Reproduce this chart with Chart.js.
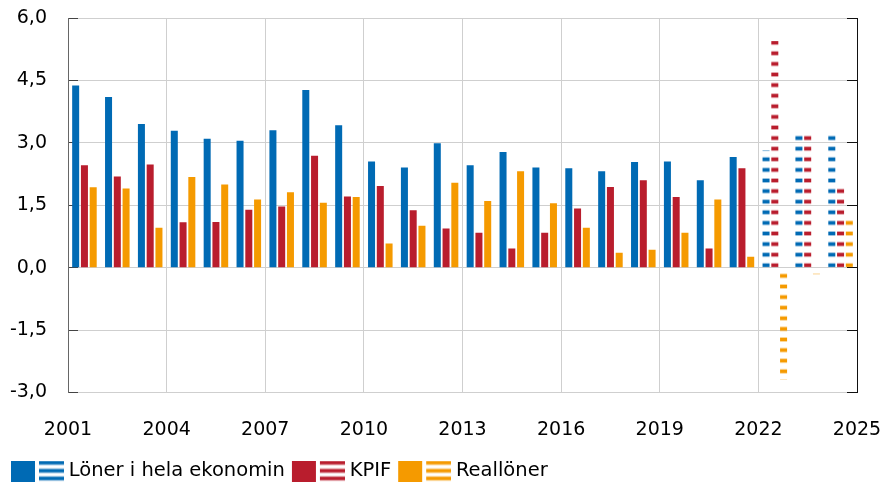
<!DOCTYPE html>
<html>
<head>
<meta charset="utf-8">
<script src="https://cdn.jsdelivr.net/npm/chart.js@4/dist/chart.umd.min.js"></script>
<style>
  html, body { margin: 0; padding: 0; background: #ffffff; overflow: hidden; }
  #wrap { width: 882px; height: 482px; }
</style>
</head>
<body>
<div id="wrap"><canvas id="chart" width="882" height="482"></canvas></div>
<script>
// Årlig procentuell förändring; 2022–2024 är prognoser (streckade staplar)
const years = ['2001','2002','2003','2004','2005','2006','2007','2008','2009','2010','2011','2012',
               '2013','2014','2015','2016','2017','2018','2019','2020','2021','2022','2023','2024'];
const lonerHelaEkonomin = [4.38, 4.10, 3.45, 3.29, 3.10, 3.05, 3.30, 4.27, 3.42, 2.55, 2.41, 2.99,
                           2.46, 2.78, 2.41, 2.39, 2.32, 2.54, 2.55, 2.10, 2.66, 2.82, 3.20, 3.20];
const kpif              = [2.46, 2.19, 2.48, 1.09, 1.10, 1.39, 1.47, 2.69, 1.71, 1.96, 1.38, 0.94,
                           0.84, 0.46, 0.84, 1.42, 1.94, 2.10, 1.70, 0.46, 2.39, 5.45, 3.20, 1.92];
const realloner         = [1.93, 1.90, 0.96, 2.18, 2.00, 1.64, 1.81, 1.56, 1.70, 0.58, 1.01, 2.04,
                           1.60, 2.32, 1.55, 0.96, 0.36, 0.43, 0.84, 1.64, 0.26, -2.70, -0.16, 1.15];
const seriesNames = ['Löner i hela ekonomin', 'KPIF', 'Reallöner'];
const firstForecastYear = '2022';
const yTicks = { min: -3, max: 6, step: 1.5 };
const xTicks = { min: 2001, max: 2025, step: 3 };

const FONT = 'DejaVu Sans';
const COLORS = ['#006ab4', '#b91d2d', '#f59a00'];
const GRID = '#cfcfcf';

// Horizontal dash fill used for forecast bars (anchored to the canvas)
function stripePattern(color) {
  const tile = document.createElement('canvas');
  tile.width = 8; tile.height = 106;
  const g = tile.getContext('2d');
  g.fillStyle = color;
  for (let k = -1; k <= 10; k++) {
    const c = 0.3 + k * 10.6;
    g.globalAlpha = 0.4; g.fillRect(0, c - 2.5, 8, 5);
    g.globalAlpha = 1;   g.fillRect(0, c - 1.5, 8, 3);
  }
  return g.createPattern(tile, 'repeat');
}

// Legend glyph: solid square followed by a striped square
function legendIcon(color) {
  const cv = document.createElement('canvas');
  cv.width = 65; cv.height = 24;
  const g = cv.getContext('2d');
  g.fillStyle = color;
  g.fillRect(12, 0, 24, 24);
  [4, 12, 19.7].forEach(cy => {
    g.globalAlpha = 0.4; g.fillRect(40, cy - 2.5, 25, 5);
    g.globalAlpha = 1;   g.fillRect(40, cy - 1.5, 25, 3);
  });
  return cv;
}

const patterns = COLORS.map(stripePattern);
const icons = COLORS.map(legendIcon);
const forecastIdx = years.indexOf(firstForecastYear);

function barFill(i) {
  return (ctx) => (ctx.dataIndex >= forecastIdx ? patterns[i] : COLORS[i]);
}

// Lower the legend row so its squares run into the bottom edge
const legendShift = {
  id: 'legendShift',
  afterLayout(chart) {
    const lg = chart.legend;
    if (lg) { lg.top += 8.5; lg.bottom += 8.5; }
  }
};

// Label overflow is already covered by the layout padding
function noEdgePadding(s) {
  s.paddingTop = 0; s.paddingBottom = 0; s.paddingLeft = 0; s.paddingRight = 0;
}

const values = [lonerHelaEkonomin, kpif, realloner];

new Chart(document.getElementById('chart'), {
  type: 'bar',
  data: {
    labels: years,
    datasets: values.map((v, i) => ({
      label: seriesNames[i],
      data: v,
      backgroundColor: barFill(i),
      borderWidth: 0,
      categoryPercentage: 0.8,
      barPercentage: 0.8
    }))
  },
  plugins: [legendShift],
  options: {
    responsive: false,
    animation: false,
    layout: { padding: { left: 4, right: 25, top: 18, bottom: 0 } },
    plugins: {
      tooltip: { enabled: false },
      legend: {
        position: 'bottom',
        align: 'start',
        labels: {
          usePointStyle: true,
          pointStyleWidth: 55,
          padding: 0,
          color: '#000',
          font: { family: FONT, size: 19.5 },
          generateLabels: (chart) => chart.data.datasets.map((ds, i) => ({
            text: ds.label,
            pointStyle: icons[i],
            fillStyle: COLORS[i],
            strokeStyle: COLORS[i],
            lineWidth: 0,
            hidden: false,
            fontColor: '#000',
            datasetIndex: i
          }))
        }
      }
    },
    scales: {
      x: { type: 'category', display: false, offset: true },
      xYear: {
        type: 'linear',
        position: 'bottom',
        offset: false,
        min: xTicks.min, max: xTicks.max,
        ticks: {
          stepSize: xTicks.step, padding: 26, color: '#000',
          font: { family: FONT, size: 19 },
          callback: (v) => String(v)
        },
        grid: { color: GRID, drawTicks: false, offset: false },
        border: { display: false },
        afterFit: (s) => { s.height = 60; noEdgePadding(s); }
      },
      y: {
        min: yTicks.min, max: yTicks.max,
        ticks: {
          stepSize: yTicks.step, padding: 31, color: '#000',
          font: { family: FONT, size: 19 },
          callback: (v) => Number(v).toFixed(1).replace('.', ',')
        },
        grid: { color: GRID, tickLength: -10, tickColor: '#444' },
        border: { color: '#666', width: 1 },
        afterFit: (s) => { s.width = 64; noEdgePadding(s); }
      },
      y2: {
        position: 'right',
        min: yTicks.min, max: yTicks.max,
        ticks: { display: false, stepSize: yTicks.step },
        grid: { drawOnChartArea: false, tickLength: -10, tickColor: '#111' },
        border: { color: '#111', width: 1 },
        afterFit: (s) => { s.width = 0; noEdgePadding(s); }
      }
    }
  }
});
</script>
</body>
</html>
